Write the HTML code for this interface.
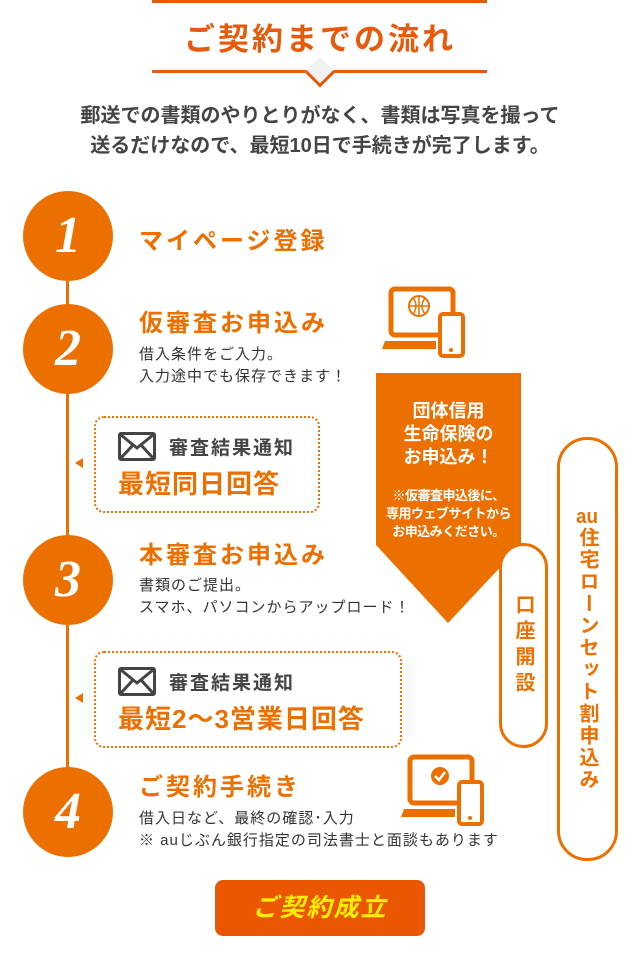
<!DOCTYPE html>
<html><head><meta charset="utf-8"><style>
*{margin:0;padding:0;box-sizing:border-box}
body{width:640px;height:964px;background:#fff;position:relative;overflow:hidden;font-family:"Liberation Sans","Noto Sans CJK JP",sans-serif;color:#333}
.a{position:absolute}
.c{position:absolute;left:23px;width:90px;height:90px;border-radius:50%;background:#ec7000;color:#fff;font-family:"Liberation Serif",serif;font-style:italic;font-weight:bold;font-size:52px;text-align:center;line-height:90px}
.h{position:absolute;left:139px;color:#ec7000;font-weight:bold;font-size:24px;letter-spacing:3px;white-space:nowrap}
.t{position:absolute;left:139px;font-size:15px;line-height:22px;letter-spacing:1px;white-space:nowrap;color:#333}
.box{position:absolute;border:2px dotted #ec7000;border-radius:10px}
.tri{position:absolute;left:75px;width:0;height:0;border-top:5px solid transparent;border-bottom:5px solid transparent;border-right:8px solid #ec7000}
.pill{position:absolute;border:3px solid #ec7000;border-radius:30px;color:#ec7000;font-weight:bold;text-align:center;writing-mode:vertical-rl;text-orientation:upright;display:flex;align-items:center;justify-content:center}
.tcu{text-combine-upright:all}
</style></head><body>
<div class="a" style="left:152px;top:0;width:335px;height:3px;background:#e85a0b"></div>
<div class="a" style="left:0;top:14px;width:640px;text-align:center;font-size:31px;font-weight:bold;color:#e85a0b;letter-spacing:3px">ご契約までの流れ</div>
<div class="a" style="left:152px;top:70px;width:335px;height:3px;background:#e85a0b"></div>
<div class="a" style="left:309px;top:61px;width:22px;height:22px;transform:rotate(45deg);background:#f2f2f2;border-right:3px solid #e85a0b;border-bottom:3px solid #e85a0b"></div>
<div class="a" style="left:0;top:101px;width:640px;text-align:center;font-size:20px;font-weight:bold;line-height:30px;color:#444">郵送での書類のやりとりがなく、書類は写真を撮って<br>送るだけなので、最短10日で手続きが完了します。</div>

<div class="a" style="left:66px;top:236px;width:3px;height:576px;background:#ec7000"></div>
<div class="c" style="top:191px">1</div>
<div class="c" style="top:304px">2</div>
<div class="c" style="top:535px">3</div>
<div class="c" style="top:767px">4</div>

<div class="h" style="top:221px">マイページ登録</div>
<div class="h" style="top:303px">仮審査お申込み</div>
<div class="t" style="top:344px">借入条件をご入力。<br>入力途中でも保存できます！</div>
<div class="h" style="top:535px">本審査お申込み</div>
<div class="t" style="top:575px">書類のご提出。<br>スマホ、パソコンからアップロード！</div>
<div class="h" style="top:767px">ご契約手続き</div>
<div class="t" style="top:808px">借入日など、最終の確認･入力<br>※ auじぶん銀行指定の司法書士と面談もあります</div>

<div class="box" style="left:94px;top:416px;width:226px;height:97px"></div>
<div class="tri" style="top:458px"></div>
<div class="a" style="left:118px;top:432px;width:38px;height:29px;border:3px solid #444;border-radius:3px"><svg width="32" height="23" style="position:absolute;left:0;top:0"><path d="M0 0L16 13L32 0M0 23L12 10M32 23L20 10" stroke="#444" stroke-width="3" fill="none"/></svg></div>
<div class="a" style="left:169px;top:433px;font-size:19px;font-weight:bold;color:#444;letter-spacing:2px">審査結果通知</div>
<div class="a" style="left:118px;top:464px;font-size:26px;font-weight:bold;color:#ec7000;letter-spacing:1px">最短同日回答</div>

<div class="box" style="left:94px;top:651px;width:308px;height:97px"></div>
<div class="tri" style="top:693px"></div>
<div class="a" style="left:118px;top:667px;width:38px;height:29px;border:3px solid #444;border-radius:3px"><svg width="32" height="23" style="position:absolute;left:0;top:0"><path d="M0 0L16 13L32 0M0 23L12 10M32 23L20 10" stroke="#444" stroke-width="3" fill="none"/></svg></div>
<div class="a" style="left:169px;top:668px;font-size:19px;font-weight:bold;color:#444;letter-spacing:2px">審査結果通知</div>
<div class="a" style="left:118px;top:699px;font-size:26px;font-weight:bold;color:#ec7000;letter-spacing:1px">最短2～3営業日回答</div>

<svg class="a" style="left:382px;top:286px" width="86" height="74">
<rect x="9" y="3" width="62" height="46" rx="4" fill="none" stroke="#ec7000" stroke-width="5"/>
<path d="M3 55H54V63H0Z" fill="#ec7000"/>
<circle cx="37" cy="20" r="10" fill="none" stroke="#ec7000" stroke-width="2"/>
<path d="M27 20H47M37 10V30M31 12Q37 20 31 28M43 12Q37 20 43 28" stroke="#ec7000" stroke-width="1.5" fill="none"/>
<rect x="58" y="28" width="23" height="42" rx="3" fill="#fff" stroke="#ec7000" stroke-width="4"/>
<circle cx="69" cy="64" r="2" fill="#ec7000"/>
</svg>
<svg class="a" style="left:401px;top:754px" width="86" height="74">
<rect x="9" y="3" width="62" height="46" rx="4" fill="none" stroke="#ec7000" stroke-width="5"/>
<path d="M3 55H54V63H0Z" fill="#ec7000"/>
<circle cx="39" cy="22" r="9" fill="#ec7000"/>
<path d="M34 22L38 26L44 18" stroke="#fff" stroke-width="2.5" fill="none"/>
<rect x="58" y="28" width="23" height="42" rx="3" fill="#fff" stroke="#ec7000" stroke-width="4"/>
<circle cx="69" cy="64" r="2" fill="#ec7000"/>
</svg>

<svg class="a" style="left:376px;top:373px" width="145" height="252"><path d="M0 0H145V172L72 250L0 172Z" fill="#ec7000"/></svg>
<div class="a" style="left:376px;top:400px;width:145px;text-align:center;color:#fff;font-weight:bold;font-size:18px;line-height:23px">団体信用<br>生命保険の<br>お申込み！</div>
<div class="a" style="left:376px;top:487px;width:145px;text-align:center;color:#fff;font-weight:bold;font-size:13px;line-height:18px;letter-spacing:-0.5px">※仮審査申込後に、<br>専用ウェブサイトから<br>お申込みください。</div>

<div class="pill" style="left:499px;top:543px;width:49px;height:205px;font-size:20px;letter-spacing:6px;background:#fff">口座開設</div>
<div class="pill" style="left:557px;top:437px;width:61px;height:424px;font-size:20px;letter-spacing:2px"><span><span class="tcu">au</span>住宅ローンセット割申込み</span></div>

<div class="a" style="left:215px;top:880px;width:210px;height:56px;border-radius:8px;background:#eb5600;color:#ffef00;font-weight:bold;font-style:italic;font-size:25px;text-align:center;line-height:56px;letter-spacing:2px">ご契約成立</div>
</body></html>
